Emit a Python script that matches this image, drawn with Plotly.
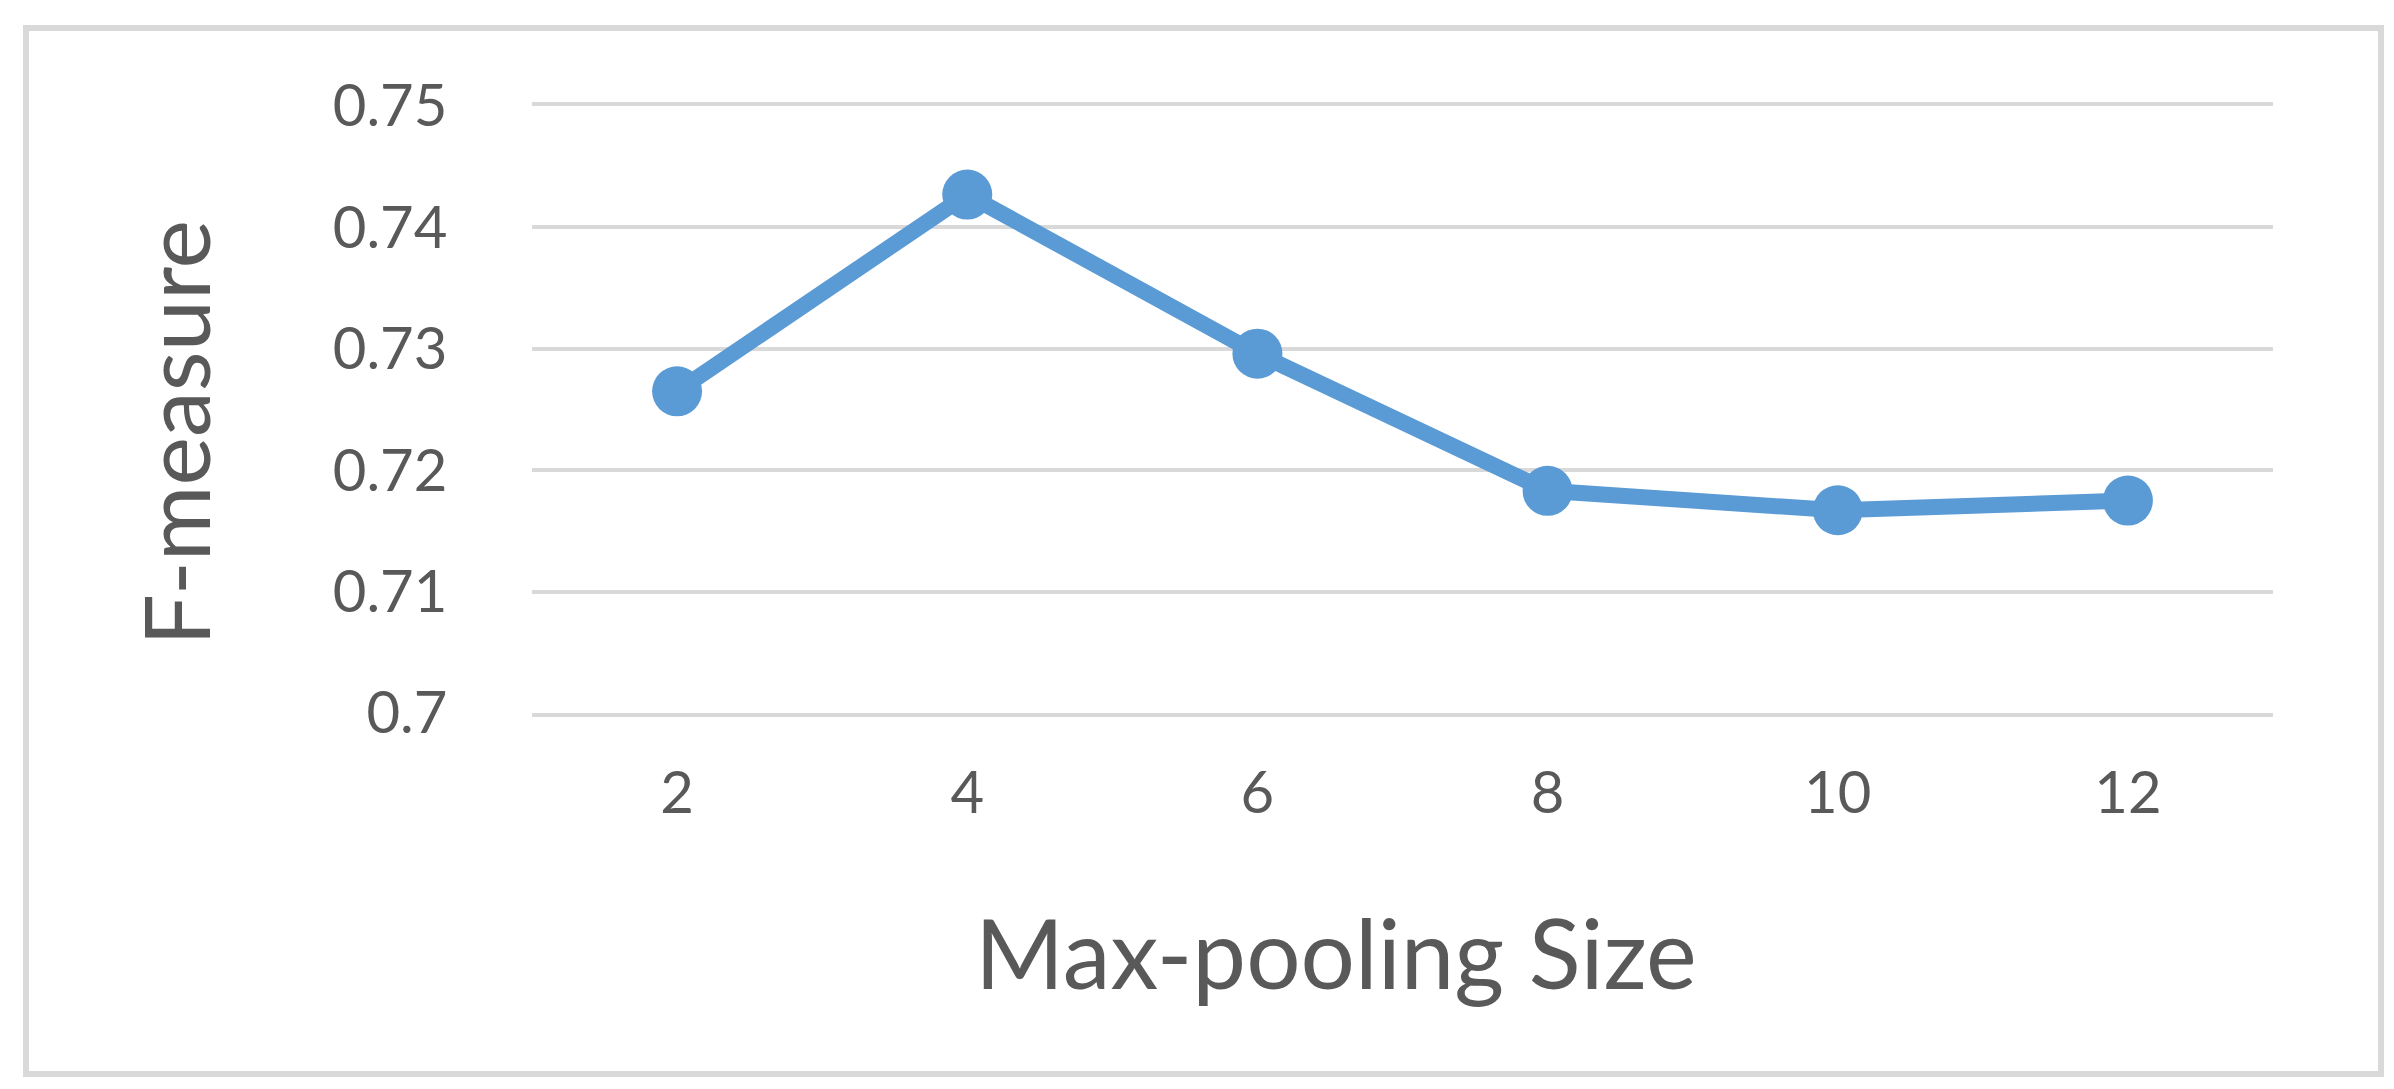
import plotly.graph_objects as go

# Data
pool_sizes = ["2", "4", "6", "8", "10", "12"]
f_measure = [0.7265, 0.7427, 0.7296, 0.7183, 0.7167, 0.7175]
y_tick_vals = [0.70, 0.71, 0.72, 0.73, 0.74, 0.75]
y_tick_text = ["0.7", "0.71", "0.72", "0.73", "0.74", "0.75"]
x_title = "Max-pooling Size"
y_title = "F-measure"

W, H = 2394, 1089
L, R, T, B = 524, 129, 98, 384
pw, ph = W - L - R, H - T - B

def px_x(x):
    return (x - L) / pw

def px_y(y):
    return (H - B - y) / ph

text_color = "#595959"
grid_color = "#d9d9d9"
line_color = "#5b9bd5"
font_family = "Lato, 'Open Sans', sans-serif"

fig = go.Figure()
fig.add_trace(go.Scatter(
    x=pool_sizes, y=f_measure, mode="lines+markers",
    line=dict(color=line_color, width=16),
    marker=dict(color=line_color, size=50),
    cliponaxis=False, showlegend=False,
))

fig.update_layout(
    width=W, height=H,
    margin=dict(l=L, r=R, t=T, b=B),
    paper_bgcolor="white", plot_bgcolor="white",
    font=dict(family=font_family, color=text_color),
    xaxis=dict(
        type="category", range=[-0.5, 5.5],
        showgrid=False, zeroline=False,
        showline=True, mirror=True, linecolor=grid_color, linewidth=4,
        ticks="outside", ticklen=26, tickcolor="rgba(0,0,0,0)",
        tickfont=dict(size=58, color=text_color, family=font_family),
    ),
    yaxis=dict(
        range=[0.70, 0.75],
        tickvals=y_tick_vals, ticktext=y_tick_text,
        showgrid=True, gridcolor=grid_color, gridwidth=4,
        zeroline=False, showline=False,
        ticks="outside", ticklen=72, tickcolor="rgba(0,0,0,0)",
        tickfont=dict(size=58, color=text_color, family=font_family),
    ),
    annotations=[
        dict(text=x_title, xref="paper", yref="paper",
             x=px_x(1328), y=px_y(943), xanchor="center", yanchor="middle",
             showarrow=False, font=dict(size=96, color=text_color, family=font_family)),
        dict(text=y_title, xref="paper", yref="paper", textangle=-90,
             x=px_x(166), y=px_y(425), xanchor="center", yanchor="middle",
             showarrow=False, font=dict(size=92, color=text_color, family=font_family)),
    ],
    shapes=[
        dict(type="rect", xref="paper", yref="paper",
             x0=px_x(18), x1=px_x(2373), y0=px_y(1066), y1=px_y(20),
             line=dict(color=grid_color, width=6), fillcolor="rgba(0,0,0,0)", layer="below"),
    ],
)

fig.write_html("out.html")
